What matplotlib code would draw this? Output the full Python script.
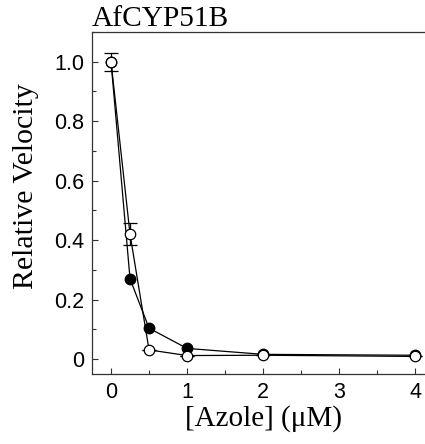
import matplotlib
matplotlib.use('Agg')
import matplotlib.pyplot as plt
from matplotlib.ticker import MultipleLocator, FuncFormatter

# concentrations (uM) and relative velocities
conc = [0, 0.25, 0.5, 1, 2, 4]
vel_filled = [1.0, 0.27, 0.104, 0.036, 0.016, 0.013]
vel_open = [1.0, 0.42, 0.031, 0.012, 0.013, 0.009]
err_open = [0.03, 0.036, 0, 0, 0, 0]

fig = plt.figure(figsize=(4.25, 4.44), dpi=100)
ax = fig.add_axes([0.2165, 0.1577, 0.805, 0.7703])

ax.plot(conc, vel_filled, '-', color='black', lw=0.9, marker='o', ms=7.5,
        mfc='black', mec='black', zorder=3)
ax.errorbar(conc, vel_open, yerr=err_open, fmt='none', ecolor='black',
            elinewidth=0.9, capsize=5, capthick=0.9, zorder=2)
ax.plot(conc, vel_open, '-', color='black', lw=0.9, marker='o', ms=7.5,
        mfc='white', mec='black', mew=0.9, zorder=4)

ax.set_xlim(-0.25, 4.25)
ax.set_ylim(-0.05, 1.1)
ax.xaxis.set_major_locator(MultipleLocator(1))
ax.xaxis.set_minor_locator(MultipleLocator(0.5))
ax.yaxis.set_major_locator(MultipleLocator(0.2))
ax.yaxis.set_minor_locator(MultipleLocator(0.1))
ax.yaxis.set_major_formatter(FuncFormatter(lambda v, p: '0' if abs(v) < 1e-9 else '%.1f' % v))

ax.tick_params(which='both', direction='in', color='#333333', width=0.8)
ax.tick_params(which='major', length=4, labelsize=15.5, pad=5.5)
ax.tick_params(which='minor', length=3)
for lab in ax.get_xticklabels() + ax.get_yticklabels():
    lab.set_family('Liberation Sans')
for s in ax.spines.values():
    s.set_color('#333333')
    s.set_linewidth(0.9)
ax.spines['right'].set_visible(False)

ax.set_ylabel('Relative Velocity', family='Liberation Serif', fontsize=21.5)
ax.yaxis.set_label_coords(-0.155, 0.548)
ax.set_xlabel('[Azole] (\u03bcM)', family='Liberation Serif', fontsize=21, labelpad=2)
ax.set_title('AfCYP51B', family='Liberation Serif', fontsize=21.2, loc='left', pad=1)
ax.title.set_x(0.008)

fig.savefig('out.png', dpi=100)
